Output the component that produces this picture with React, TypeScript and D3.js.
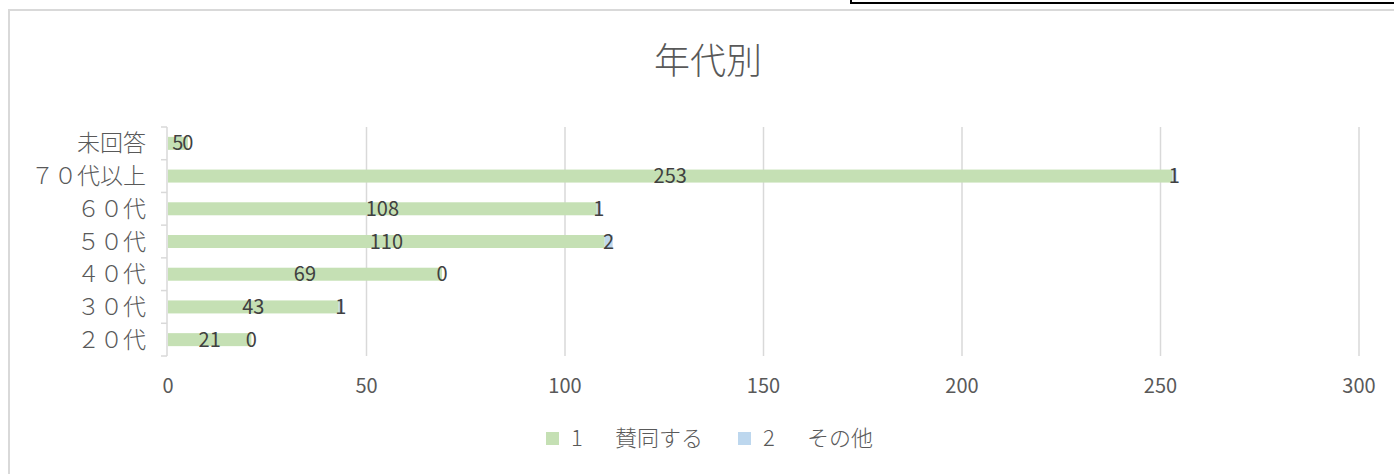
import React from "react";
import * as d3 from "d3";

const categories = ["未回答", "７０代以上", "６０代", "５０代", "４０代", "３０代", "２０代"];
const agreeValues = [5, 253, 108, 110, 69, 43, 21];
const otherValues = [0, 1, 1, 2, 0, 1, 0];
const seriesNums = ["1", "2"];
const seriesNames = ["賛同する", "その他"];
const xTicks = [0, 50, 100, 150, 200, 250, 300];

const W = 1394;
const H = 474;
const FONT = "'Noto Sans CJK JP', 'Noto Sans', sans-serif";
const GRID = "#d9d9d9";
const TEXT = "#595959";
const LABEL = "#404040";
const COLORS = ["#c5e0b4", "#bdd7ee"];

const App: React.FC = () => {
  const x = d3.scaleLinear().domain([0, 300]).range([168, 1359]);
  const y = d3.scaleBand<string>().domain(categories).range([127, 356]);
  const barH = 13;

  const rows = categories.map((c, i) => ({
    cat: c,
    a: agreeValues[i],
    b: otherValues[i],
  }));

  // legend slots: square x, number x, name x
  const legend = [
    { sq: 546, num: 571, name: 615 },
    { sq: 738, num: 763, name: 807 },
  ];

  return (
    <svg
      width={W}
      height={H}
      style={{ position: "absolute", left: 0, top: 0, background: "#fff", fontFamily: FONT }}
    >
      {/* cut-off box from the page above */}
      <path d={`M851,0 V3 H${W}`} fill="none" stroke="#000" strokeWidth={2} />
      {/* chart frame */}
      <rect x={9} y={10} width={W} height={H} fill="#fff" stroke={GRID} strokeWidth={2} />

      <text x={708} y={74} textAnchor="middle" fontSize={36} fontWeight={300} fill={TEXT}>
        年代別
      </text>

      {/* gridlines */}
      {xTicks.slice(1).map((t) => (
        <line key={t} x1={x(t)} x2={x(t)} y1={127} y2={356} stroke={GRID} strokeWidth={1.5} />
      ))}

      {/* category axis */}
      <line x1={167} x2={167} y1={127} y2={356} stroke={GRID} strokeWidth={1.5} />
      {d3.range(categories.length + 1).map((i) => {
        const yy = 127 + i * y.step();
        return <line key={i} x1={161} x2={167} y1={yy} y2={yy} stroke={GRID} strokeWidth={1.5} />;
      })}

      {/* x tick labels */}
      {xTicks.map((t) => (
        <text key={t} x={x(t)} y={393} textAnchor="middle" fontSize={20} fill={TEXT}>
          {t}
        </text>
      ))}

      {/* category labels */}
      {categories.map((c) => (
        <text
          key={c}
          x={146}
          y={(y(c) as number) + y.bandwidth() / 2 + 8}
          textAnchor="end"
          fontSize={23}
          fontWeight={300}
          fill={TEXT}
        >
          {c}
        </text>
      ))}

      {/* bars */}
      {rows.map((r) => {
        const cy = (y(r.cat) as number) + y.bandwidth() / 2;
        return (
          <g key={r.cat}>
            <rect x={x(0)} y={cy - barH / 2} width={x(r.a) - x(0)} height={barH} fill={COLORS[0]} />
            <rect x={x(r.a)} y={cy - barH / 2} width={x(r.a + r.b) - x(r.a)} height={barH} fill={COLORS[1]} />
          </g>
        );
      })}

      {/* data labels */}
      {rows.map((r) => {
        const cy = (y(r.cat) as number) + y.bandwidth() / 2;
        return (
          <g key={r.cat + "-lbl"} fontSize={20} fill={LABEL} textAnchor="middle">
            <text x={(x(0) + x(r.a)) / 2} y={cy + 7}>
              {r.a}
            </text>
            <text x={(x(r.a) + x(r.a + r.b)) / 2} y={cy + 7}>
              {r.b}
            </text>
          </g>
        );
      })}

      {/* legend */}
      <g fontSize={22} fontWeight={300} fill={TEXT}>
        {legend.map((l, i) => (
          <g key={i}>
            <rect x={l.sq} y={432} width={13} height={13} fill={COLORS[i]} />
            <text x={l.num} y={446}>
              {seriesNums[i]}
            </text>
            <text x={l.name} y={446}>
              {seriesNames[i]}
            </text>
          </g>
        ))}
      </g>
    </svg>
  );
};

export default App;
